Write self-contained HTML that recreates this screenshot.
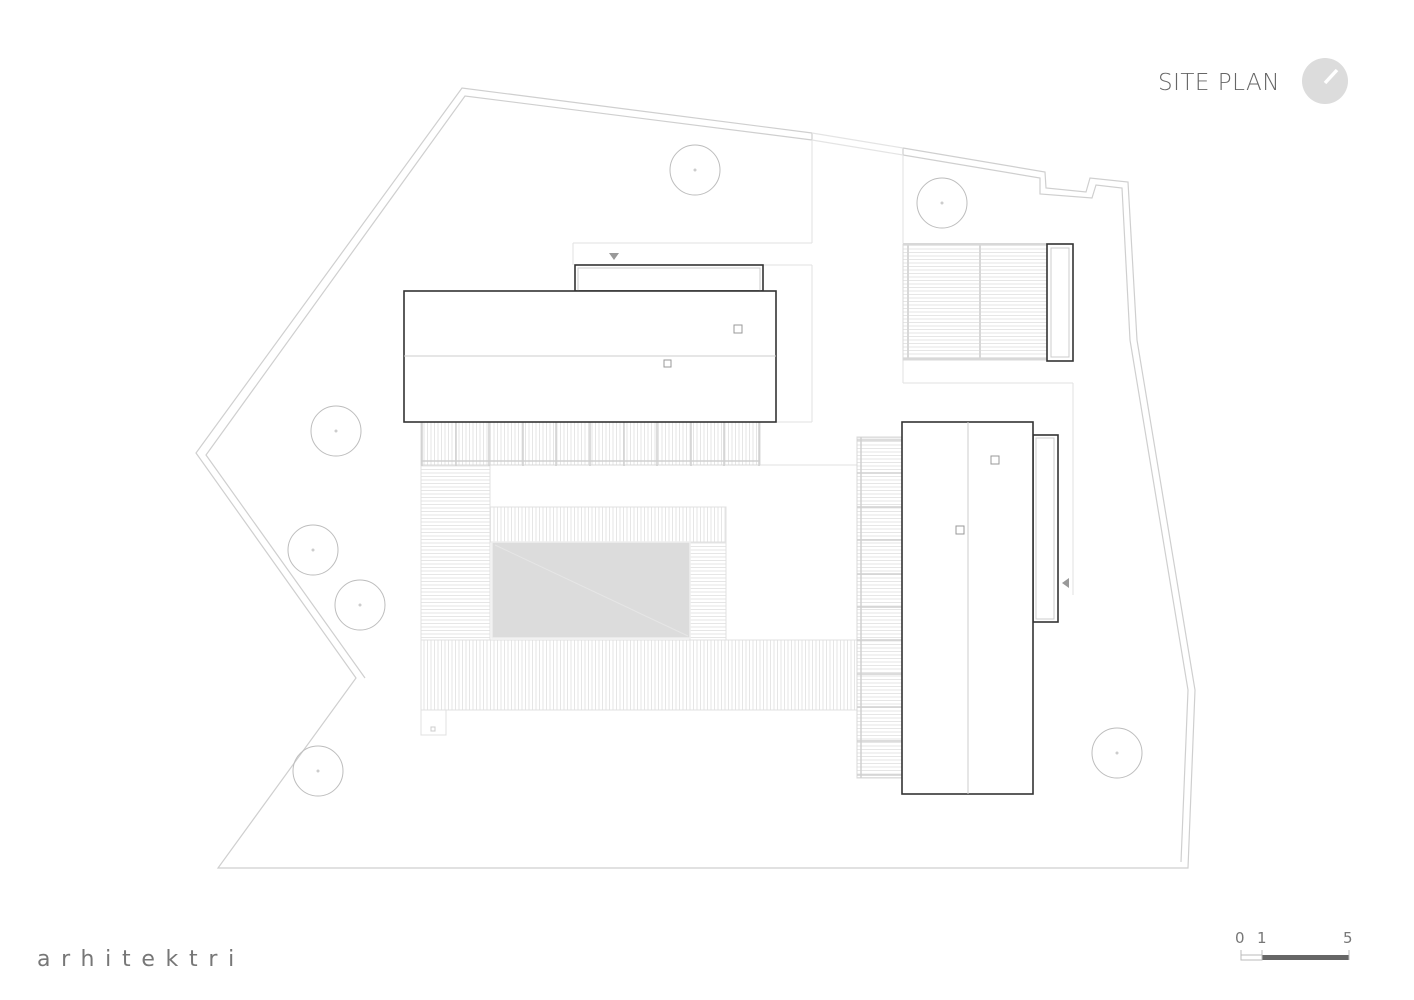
<!DOCTYPE html>
<html><head><meta charset="utf-8"><style>
html,body{margin:0;padding:0;background:#fff;}
svg{display:block;}
</style></head><body>
<svg width="1414" height="1000" viewBox="0 0 1414 1000" xmlns="http://www.w3.org/2000/svg">
<defs>
<pattern id="hz" width="4" height="3.5" patternUnits="userSpaceOnUse"><line x1="0" y1="0.5" x2="4" y2="0.5" stroke="#e0e0e0" stroke-width="0.8"/></pattern>
<pattern id="vt" width="3.5" height="4" patternUnits="userSpaceOnUse"><line x1="0.5" y1="0" x2="0.5" y2="4" stroke="#e0e0e0" stroke-width="0.8"/></pattern>
</defs>
<rect width="1414" height="1000" fill="#fff"/>

<g fill="none" stroke="#cfcfcf" stroke-width="1.2">
<polyline points="812,133 462,88 196,453 356,678 218,868 1188,868 1195,690 1137,340 1128,182 1090,178 1086,192 1046,188 1045,172 903,148"/>
<polyline points="812,140 465,96 206,455 365,678"/>
<polyline points="1181,862 1188,690 1130,340 1122,188 1096,185 1092,198 1040,194 1040,178 903,155"/>
<line x1="812" y1="133" x2="812" y2="140"/>
<line x1="903" y1="148" x2="903" y2="155"/>
<line x1="812" y1="133" x2="903" y2="148" stroke="#e4e4e4"/>
<line x1="812" y1="140" x2="903" y2="155" stroke="#e4e4e4"/>
</g>

<g fill="none" stroke="#e2e2e2" stroke-width="1">
<line x1="812" y1="140" x2="812" y2="243"/>
<line x1="573" y1="243" x2="812" y2="243"/>
<line x1="573" y1="243" x2="573" y2="265"/>
<line x1="763" y1="265" x2="812" y2="265"/>
<line x1="812" y1="265" x2="812" y2="422"/>
<line x1="776" y1="422" x2="812" y2="422"/>
<line x1="760" y1="465" x2="857" y2="465"/>
<line x1="903" y1="155" x2="903" y2="243"/>
<line x1="903" y1="383" x2="1073" y2="383"/>
<line x1="903" y1="360" x2="903" y2="383"/>
<line x1="1073" y1="383" x2="1073" y2="595"/>
</g>
<polygon points="609,253 619,253 614,260" fill="#999"/>
<polygon points="1069,578 1069,588 1062,583" fill="#999"/>

<g fill="none" stroke="#bdbdbd" stroke-width="1">
<circle cx="695" cy="170" r="25"/><circle cx="942" cy="203" r="25"/>
<circle cx="336" cy="431" r="25"/><circle cx="313" cy="550" r="25"/>
<circle cx="360" cy="605" r="25"/><circle cx="318" cy="771" r="25"/>
<circle cx="1117" cy="753" r="25"/>
</g>
<g fill="#ccc"><circle cx="695" cy="170" r="1.5"/><circle cx="942" cy="203" r="1.5"/><circle cx="336" cy="431" r="1.5"/><circle cx="313" cy="550" r="1.5"/><circle cx="360" cy="605" r="1.5"/><circle cx="318" cy="771" r="1.5"/><circle cx="1117" cy="753" r="1.5"/></g>

<rect x="421" y="465" width="69" height="175" fill="url(#hz)" stroke="#e0e0e0"/>
<rect x="490" y="507" width="236" height="35" fill="url(#vt)" stroke="#e0e0e0"/>
<rect x="690" y="542" width="36" height="98" fill="url(#hz)" stroke="#e0e0e0"/>
<rect x="421" y="640" width="436" height="70" fill="url(#vt)" stroke="#e0e0e0"/>
<rect x="421" y="710" width="25" height="25" fill="none" stroke="#e0e0e0"/>
<rect x="431" y="727" width="4" height="4" fill="none" stroke="#ccc"/>
<rect x="492" y="542" width="198" height="96" fill="#dcdcdc" stroke="#eee" stroke-width="1.5"/>
<line x1="495" y1="545" x2="688" y2="636" stroke="#e6e6e6"/>

<rect x="421" y="422" width="339" height="43" fill="url(#vt)" stroke="#d8d8d8"/>
<g stroke="#d0d0d0" stroke-width="1.5">
<line x1="422" y1="422" x2="422" y2="466"/><line x1="456" y1="422" x2="456" y2="466"/><line x1="489" y1="422" x2="489" y2="466"/><line x1="523" y1="422" x2="523" y2="466"/><line x1="556" y1="422" x2="556" y2="466"/><line x1="590" y1="422" x2="590" y2="466"/><line x1="624" y1="422" x2="624" y2="466"/><line x1="657" y1="422" x2="657" y2="466"/><line x1="691" y1="422" x2="691" y2="466"/><line x1="724" y1="422" x2="724" y2="466"/><line x1="759" y1="422" x2="759" y2="466"/>
<line x1="421" y1="461" x2="760" y2="461"/>
</g>

<rect x="857" y="437" width="45" height="341" fill="url(#hz)" stroke="#d8d8d8"/>
<g stroke="#d0d0d0" stroke-width="1.5">
<line x1="861" y1="437" x2="861" y2="778"/>
<line x1="857" y1="440" x2="902" y2="440"/><line x1="857" y1="473" x2="902" y2="473"/><line x1="857" y1="507" x2="902" y2="507"/><line x1="857" y1="540" x2="902" y2="540"/><line x1="857" y1="574" x2="902" y2="574"/><line x1="857" y1="607" x2="902" y2="607"/><line x1="857" y1="640" x2="902" y2="640"/><line x1="857" y1="674" x2="902" y2="674"/><line x1="857" y1="707" x2="902" y2="707"/><line x1="857" y1="741" x2="902" y2="741"/><line x1="857" y1="775" x2="902" y2="775"/>
</g>

<rect x="903" y="244" width="144" height="116" fill="url(#hz)" stroke="#d8d8d8"/>
<g stroke="#d8d8d8" stroke-width="2"><line x1="903" y1="244" x2="1047" y2="244"/><line x1="903" y1="359" x2="1047" y2="359"/><line x1="908" y1="244" x2="908" y2="360"/><line x1="980" y1="244" x2="980" y2="360"/></g>
<rect x="1047" y="244" width="26" height="117" fill="#fff" stroke="#333" stroke-width="1.6"/>
<rect x="1051" y="248" width="18" height="109" fill="none" stroke="#ccc"/>

<rect x="575" y="265" width="188" height="26" fill="#fff" stroke="#333" stroke-width="1.6"/>
<rect x="578" y="268" width="182" height="23" fill="none" stroke="#ccc"/>
<rect x="404" y="291" width="372" height="131" fill="#fff" stroke="#333" stroke-width="1.6"/>
<line x1="404" y1="356" x2="776" y2="356" stroke="#ccc"/>
<rect x="734" y="325" width="8" height="8" fill="none" stroke="#999"/>
<rect x="664" y="360" width="7" height="7" fill="none" stroke="#999"/>

<rect x="1033" y="435" width="25" height="187" fill="#fff" stroke="#333" stroke-width="1.6"/>
<rect x="1036" y="438" width="18" height="181" fill="none" stroke="#ccc"/>
<rect x="902" y="422" width="131" height="372" fill="#fff" stroke="#333" stroke-width="1.6"/>
<line x1="968" y1="422" x2="968" y2="794" stroke="#ccc"/>
<rect x="991" y="456" width="8" height="8" fill="none" stroke="#999"/>
<rect x="956" y="526" width="8" height="8" fill="none" stroke="#999"/>

<text x="1158" y="90" font-family="'DejaVu Sans','Liberation Sans',sans-serif" font-size="23" fill="#666" letter-spacing="0.5" font-weight="300">SITE PLAN</text>
<circle cx="1325" cy="81" r="23" fill="#dcdcdc"/>
<line x1="1325" y1="83" x2="1337" y2="70" stroke="#fff" stroke-width="3.5"/>

<text x="37" y="966" font-family="'DejaVu Sans','Liberation Sans',sans-serif" font-size="22" fill="#777" letter-spacing="10.7">arhitektri</text>

<g font-family="'DejaVu Sans','Liberation Sans',sans-serif" font-size="15" fill="#777">
<text x="1235" y="943">0</text><text x="1257" y="943">1</text><text x="1343" y="943">5</text>
</g>
<rect x="1241" y="955" width="21" height="5" fill="none" stroke="#bbb"/>
<rect x="1262" y="955" width="87" height="5" fill="#666"/>
<line x1="1241" y1="950" x2="1241" y2="960" stroke="#bbb"/>
<line x1="1262" y1="950" x2="1262" y2="960" stroke="#bbb"/>
<line x1="1349" y1="950" x2="1349" y2="960" stroke="#bbb"/>
</svg>
</body></html>
